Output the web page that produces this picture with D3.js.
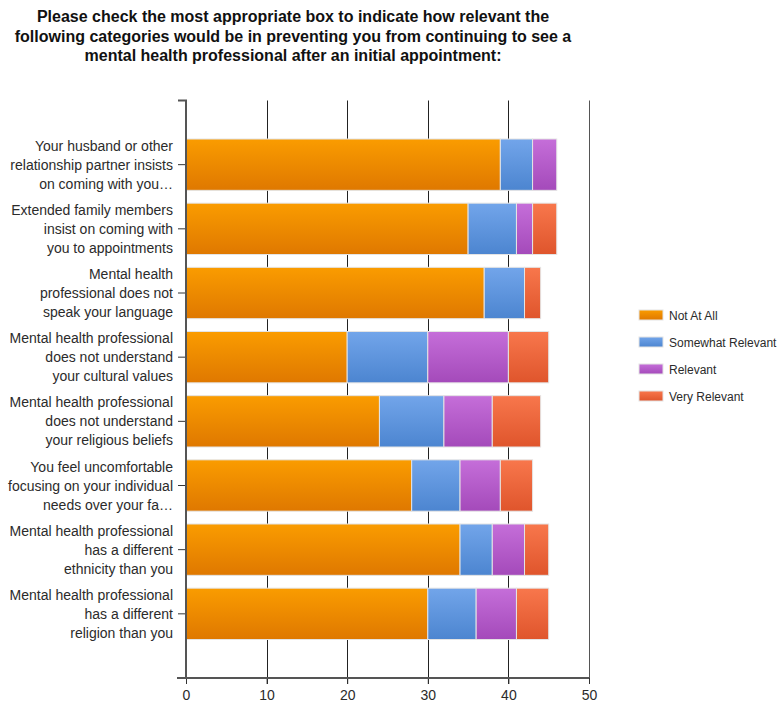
<!DOCTYPE html>
<html>
<head>
<meta charset="utf-8">
<script src="https://cdn.jsdelivr.net/npm/d3@7"></script>
<style>
  body { margin: 0; background: #fff; }
  text { font-family: "Liberation Sans", Arial, sans-serif; fill: #2b2b2b; }
</style>
</head>
<body>
<svg></svg>
<script>
var width = 777;
var height = 704;

var titleLines = [
  "Please check the most appropriate box to indicate how relevant the",
  "following categories would be in preventing you from continuing to see a",
  "mental health professional after an initial appointment:"
];
var categories = [
  ["Your husband or other", "relationship partner insists", "on coming with you\u2026"],
  ["Extended family members", "insist on coming with", "you to appointments"],
  ["Mental health", "professional does not", "speak your language"],
  ["Mental health professional", "does not understand", "your cultural values"],
  ["Mental health professional", "does not understand", "your religious beliefs"],
  ["You feel uncomfortable", "focusing on your individual", "needs over your fa\u2026"],
  ["Mental health professional", "has a different", "ethnicity than you"],
  ["Mental health professional", "has a different", "religion than you"]
];
var seriesNames = ["Not At All", "Somewhat Relevant", "Relevant", "Very Relevant"];
var notAtAll         = [39, 35, 37, 20, 24, 28, 34, 30];
var somewhatRelevant = [4, 6, 5, 10, 8, 6, 4, 6];
var relevant         = [3, 2, 0, 10, 6, 5, 4, 5];
var veryRelevant     = [0, 3, 2, 5, 6, 4, 3, 4];
var xTicks = [0, 10, 20, 30, 40, 50];
var colorTop = ["#fa9c00", "#72a5ea", "#c56ed9", "#f8774c"];
var colorBottom = ["#df7800", "#4c85d0", "#a44aba", "#df552c"];

var svg = d3.select("svg")
    .attr("width", width)
    .attr("height", height);

// gradients for the bars
var defs = svg.append("defs");
seriesNames.forEach((s, i) => {
  var g = defs.append("linearGradient")
      .attr("id", "grad" + i)
      .attr("x1", 0).attr("y1", 0).attr("x2", 0).attr("y2", 1);
  g.append("stop").attr("offset", "0%").attr("stop-color", colorTop[i]);
  g.append("stop").attr("offset", "100%").attr("stop-color", colorBottom[i]);
});

// title
svg.append("text")
    .attr("x", 293)
    .attr("y", 22)
    .attr("text-anchor", "middle")
    .style("font-weight", "bold")
    .style("font-size", "16px")
    .style("fill", "#111")
    .selectAll("tspan")
    .data(titleLines)
    .enter()
    .append("tspan")
        .attr("x", 293)
        .attr("dy", (d, i) => i === 0 ? 0 : 19.5)
        .text(d => d);

var plotLeft = 186, plotRight = 589, plotTop = 100.5, plotBottom = 678;

var xScale = d3.scaleLinear()
    .domain([0, 50])
    .range([plotLeft, plotRight]);

// 9 slots on the category axis, the last one left empty
var step = (plotBottom - plotTop) / 9;
var keys = categories.map((d, i) => i);
var yScale = d3.scaleBand()
    .domain(keys)
    .range([plotTop + step / 2, plotBottom - step / 2])
    .paddingInner(0.2)
    .paddingOuter(0.1);

// stacked data
var rows = keys.map(i => ({
  key: i,
  s0: notAtAll[i], s1: somewhatRelevant[i], s2: relevant[i], s3: veryRelevant[i]
}));
var stack = d3.stack().keys(["s0", "s1", "s2", "s3"]);
var layers = stack(rows);

// vertical grid lines
svg.append("g")
    .selectAll("line")
    .data(xTicks.slice(1))
    .enter()
    .append("line")
        .attr("x1", d => Math.round(xScale(d)) + 0.5)
        .attr("x2", d => Math.round(xScale(d)) + 0.5)
        .attr("y1", plotTop)
        .attr("y2", plotBottom + 6)
        .attr("stroke", d => d === 50 ? "#555" : "#222")
        .attr("stroke-width", 1);

// bars
svg.append("g")
    .selectAll("g")
    .data(layers)
    .enter()
    .append("g")
        .attr("fill", (d, i) => "url(#grad" + i + ")")
    .selectAll("rect")
    .data(d => d.filter(p => p[1] > p[0]))
    .enter()
    .append("rect")
        .attr("x", d => xScale(d[0]))
        .attr("y", d => yScale(d.data.key))
        .attr("width", d => xScale(d[1]) - xScale(d[0]))
        .attr("height", yScale.bandwidth())
        .attr("stroke", "#e4e4e4")
        .attr("stroke-width", 1);

// y axis
var yAxis = d3.axisLeft(yScale)
    .tickSize(8)
    .tickFormat("");
var yAxisG = svg.append("g")
    .attr("transform", "translate(" + plotLeft + ",0)")
    .call(yAxis);
yAxisG.select(".domain").remove();
yAxisG.selectAll(".tick line").attr("stroke", "#333");
svg.append("path")
    .attr("d", "M" + (plotLeft - 8) + "," + plotTop + "H" + plotLeft + "V" + plotBottom)
    .attr("fill", "none")
    .attr("stroke", "#555")
    .attr("stroke-width", 2);

// category labels
yAxisG.selectAll(".tick")
    .append("text")
        .attr("x", -13)
        .attr("y", -19)
        .attr("text-anchor", "end")
        .style("font-size", "14px")
        .style("fill", "#2b2b2b")
    .selectAll("tspan")
    .data(d => categories[d])
    .enter()
    .append("tspan")
        .attr("x", -13)
        .attr("dy", (d, i) => i === 0 ? 5 : 19)
        .text(d => d);

// x axis
var xAxis = d3.axisBottom(xScale)
    .tickValues(xTicks)
    .tickSize(6)
    .tickPadding(6);
var xAxisG = svg.append("g")
    .attr("transform", "translate(0," + plotBottom + ")")
    .call(xAxis);
xAxisG.select(".domain").remove();
xAxisG.selectAll(".tick line").attr("stroke", "#333");
xAxisG.selectAll(".tick text")
    .style("font-size", "14px")
    .style("font-family", "\"Liberation Sans\", Arial, sans-serif")
    .style("fill", "#2b2b2b");
svg.append("line")
    .attr("x1", plotLeft - 9)
    .attr("x2", plotRight)
    .attr("y1", plotBottom)
    .attr("y2", plotBottom)
    .attr("stroke", "#555")
    .attr("stroke-width", 2);

// legend
var legend = svg.append("g")
    .selectAll("g")
    .data(seriesNames)
    .enter()
    .append("g")
        .attr("transform", (d, i) => "translate(639," + (310 + i * 27) + ")");
legend.append("rect")
    .attr("width", 24)
    .attr("height", 10)
    .attr("fill", (d, i) => "url(#grad" + i + ")")
    .attr("stroke", "#e4e4e4");
legend.append("text")
    .attr("x", 30)
    .attr("y", 9.5)
    .style("font-size", "12px")
    .text(d => d);
</script>
</body>
</html>
